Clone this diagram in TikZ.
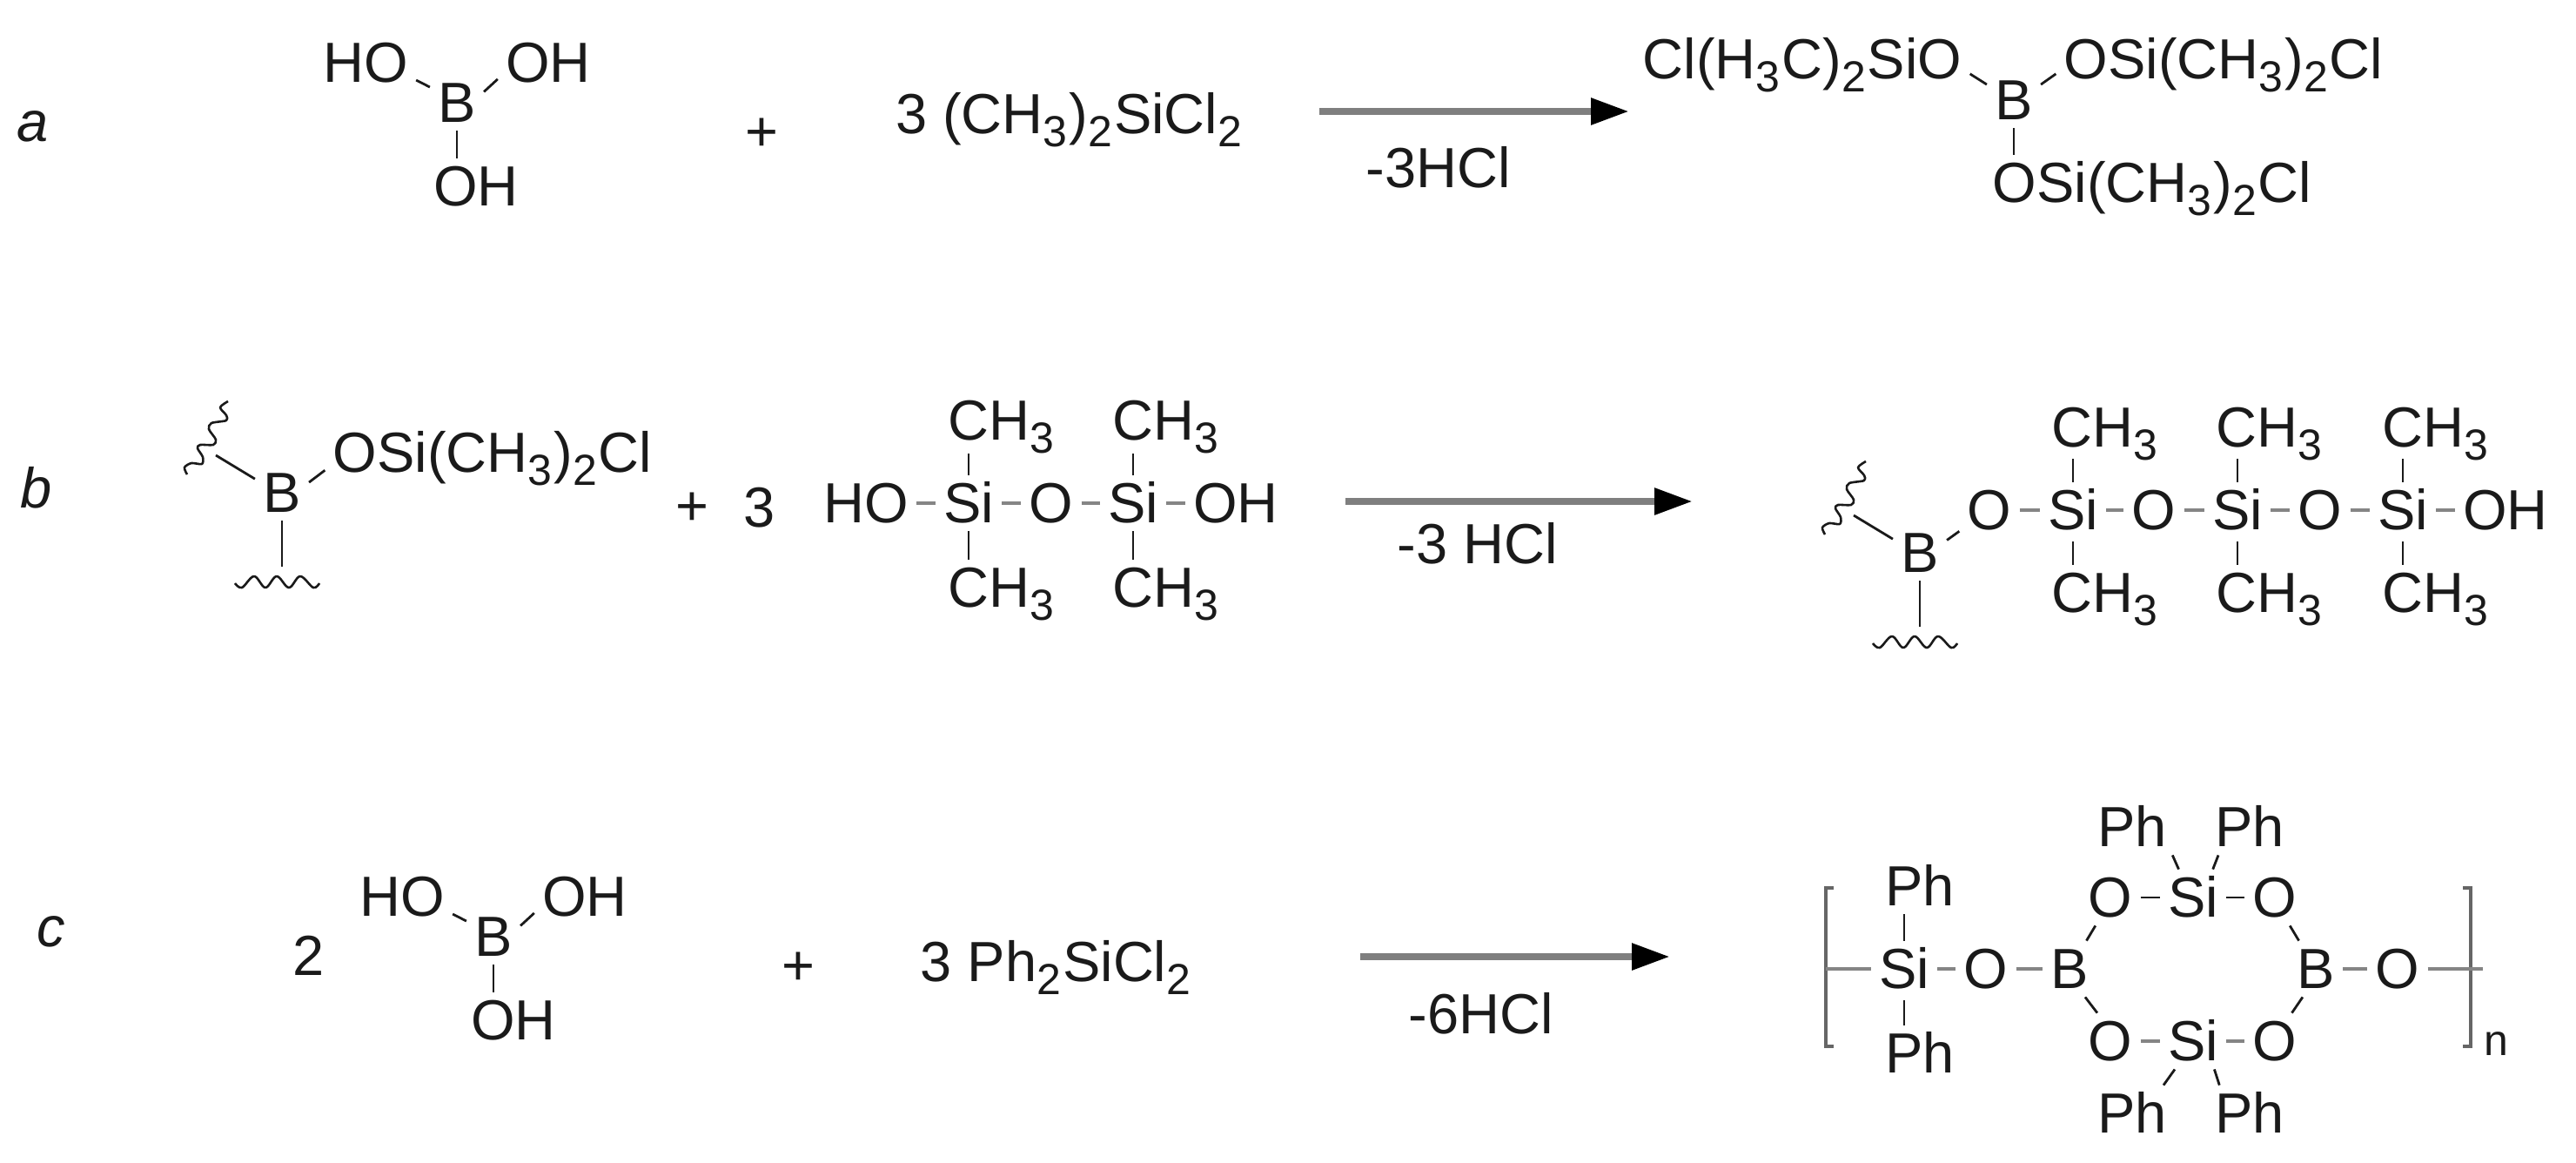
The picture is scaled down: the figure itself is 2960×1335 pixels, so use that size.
\documentclass[tikz,border=0pt]{standalone}
\usepackage{fontspec}
\setmainfont{Liberation Sans}
\usetikzlibrary{arrows.meta}
\newcommand{\lowd}[1]{\raisebox{-7.5pt}{\fontsize{25pt}{30pt}\selectfont #1}\kern1pt}
\definecolor{shaft}{HTML}{7F7F7F}
\definecolor{brk}{HTML}{666666}
\definecolor{ink}{HTML}{1A1A1A}
\definecolor{hgray}{HTML}{858585}
\tikzset{
  atom/.style={anchor=base,inner xsep=4.5pt,inner ysep=5pt,text height=22pt,text depth=0pt,
    font=\fontsize{32.5pt}{39pt}\selectfont,text=ink},
  lab/.style={anchor=base,inner sep=0pt,font=\fontsize{32.5pt}{39pt}\selectfont\itshape,text=ink},
  subn/.style={anchor=base,inner sep=0pt,font=\fontsize{25pt}{30pt}\selectfont,text=ink},
  bond/.style={line width=1.4pt,draw=ink},
  hbond/.style={line width=2.4pt,draw=hgray},
  rxnarrow/.style={line width=4.3pt,draw=shaft,-{Triangle[length=22pt,width=14.5pt,black]}},
  bracket/.style={line width=2pt,draw=brk},
  wavy/.style={line width=1.3pt,draw=ink,line join=round},
  wavyup/.pic={\draw[wavy] plot[smooth,tension=0.5] coordinates {(215,545) (212,537) (220,532) (232,533) (233,525) (227,515) (230,511) (245,511) (248,505) (240,493) (243,486) (260,483) (260,477) (253,468) (262,461)};},
  wavydown/.pic={\draw[wavy] plot[smooth,tension=0.6] coordinates {(270,670) (278,675) (292,662) (305,675) (318,662) (332,675) (345,662) (360,675) (367,670)};},
}
\begin{document}
\begin{tikzpicture}[x=0.5pt,y=-0.5pt]
\fill[white] (0,0) rectangle (2960,1335);
\useasboundingbox (0,0) rectangle (2960,1335);
% --- row a
\node[lab] (la) at (38,162) {a};
\node[atom] (aHO) at (420,94) {HO};
\node[atom] (aOH) at (630,94) {OH};
\node[atom] (aB) at (525,140) {B};
\node[atom] (aOHd) at (547,236) {OH};
\draw[bond] (aB.150) -- (aHO.-19);
\draw[bond] (aB.22) -- (aOH.198);
\draw[bond] (aB.south) -- (aB.south |- aOHd.north);
\node[atom] (aplus) at (875,173) {+};
\node[atom] (asil) at (1229,153) {3 (CH\lowd{3})\lowd{2}SiCl\lowd{2}};
\coordinate (aA1) at (1516,128);
\coordinate (aA2) at (1872,128);
\draw[rxnarrow] (aA1) -- (aA2);
\node[atom] (ahcl) at (1653,215) {-3HCl};
\node[atom] (apL) at (2071,90) {Cl(H\lowd{3}C)\lowd{2}SiO};
\node[atom] (apB) at (2314,137) {B};
\node[atom] (apR) at (2555,90) {OSi(CH\lowd{3})\lowd{2}Cl};
\node[atom] (apD) at (2473,232) {OSi(CH\lowd{3})\lowd{2}Cl};
\draw[bond] (apB.150) -- (apL.-5);
\draw[bond] (apB.30) -- (apR.185);
\draw[bond] (apB.south) -- (apB.south |- apD.north);
% --- row b
\node[lab] (lb) at (42,583) {b};
\node[atom] (bB) at (324,588) {B};
\node[atom] (bOSi) at (566,542) {OSi(CH\lowd{3})\lowd{2}Cl};
\draw[bond] (bB.21) -- (bOSi.186);
\coordinate (bW1) at (248,523);
\coordinate (bW2) at (324,651);
\pic {wavyup};
\pic {wavydown};
\draw[bond] (bW1) -- (bB.153);
\draw[bond] (bB.south) -- (bW2);
\node[atom] (bplus) at (795,603) {+};
\node[atom] (bthree) at (873,605) {3};
\node[atom] (bHO) at (995,600) {HO};
\node[atom] (bSi1) at (1113,600) {Si};
\node[atom] (bO) at (1208,600) {O};
\node[atom] (bSi2) at (1302,600) {Si};
\node[atom] (bOH) at (1420,600) {OH};
\node[atom] (bC1) at (1151,505) {CH\lowd{3}};
\node[atom] (bC2) at (1340,505) {CH\lowd{3}};
\node[atom] (bC3) at (1151,697) {CH\lowd{3}};
\node[atom] (bC4) at (1340,697) {CH\lowd{3}};
\draw[hbond] (bHO.east) -- (bSi1.west);
\draw[hbond] (bSi1.east) -- (bO.west);
\draw[hbond] (bO.east) -- (bSi2.west);
\draw[hbond] (bSi2.east) -- (bOH.west);
\draw[bond,shorten >=3pt] (bSi1.north) -- (bSi1.north |- bC1.south);
\draw[bond,shorten >=3pt] (bSi2.north) -- (bSi2.north |- bC2.south);
\draw[bond] (bSi1.south) -- (bSi1.south |- bC3.north);
\draw[bond] (bSi2.south) -- (bSi2.south |- bC4.north);
\coordinate (bA1) at (1546,576);
\coordinate (bA2) at (1945,576);
\draw[rxnarrow] (bA1) -- (bA2);
\node[atom] (bhcl) at (1698,647) {-3 HCl};
\node[atom] (pB) at (2206,657) {B};
\node[atom] (pO1) at (2286,608) {O};
\node[atom] (pSi1) at (2382,608) {Si};
\node[atom] (pO2) at (2475,608) {O};
\node[atom] (pSi2) at (2571,608) {Si};
\node[atom] (pO3) at (2666,608) {O};
\node[atom] (pSi3) at (2761,608) {Si};
\node[atom] (pOH) at (2879,608) {OH};
\node[atom] (pC1) at (2419,513) {CH\lowd{3}};
\node[atom] (pC2) at (2608,513) {CH\lowd{3}};
\node[atom] (pC3) at (2799,513) {CH\lowd{3}};
\node[atom] (pC4) at (2419,703) {CH\lowd{3}};
\node[atom] (pC5) at (2608,703) {CH\lowd{3}};
\node[atom] (pC6) at (2799,703) {CH\lowd{3}};
\draw[bond] (pB.25) -- (pO1.215);
\draw[hbond] (pO1.east) -- (pSi1.west);
\draw[hbond] (pSi1.east) -- (pO2.west);
\draw[hbond] (pO2.east) -- (pSi2.west);
\draw[hbond] (pSi2.east) -- (pO3.west);
\draw[hbond] (pO3.east) -- (pSi3.west);
\draw[hbond] (pSi3.east) -- (pOH.west);
\draw[bond,shorten >=2pt] (pSi1.north) -- (pSi1.north |- pC1.south);
\draw[bond,shorten >=2pt] (pSi2.north) -- (pSi2.north |- pC2.south);
\draw[bond,shorten >=2pt] (pSi3.north) -- (pSi3.north |- pC3.south);
\draw[bond,shorten <=2pt] (pSi1.south) -- (pSi1.south |- pC4.north);
\draw[bond,shorten <=2pt] (pSi2.south) -- (pSi2.south |- pC5.north);
\draw[bond,shorten <=2pt] (pSi3.south) -- (pSi3.south |- pC6.north);
\coordinate (pW1) at (2130,592);
\coordinate (pW2) at (2206,720);
\pic[shift={(1882,69)}] {wavyup};
\pic[shift={(1882,69)}] {wavydown};
\draw[bond] (pW1) -- (pB.153);
\draw[bond] (pB.south) -- (pW2);
% --- row c
\node[lab] (lc) at (59,1087) {c};
\node[atom] (ctwo) at (355,1120) {2};
\node[atom] (cHO) at (462,1052) {HO};
\node[atom] (cOH) at (672,1052) {OH};
\node[atom] (cB) at (567,1098) {B};
\node[atom] (cOHd) at (590,1194) {OH};
\draw[bond] (cB.150) -- (cHO.-19);
\draw[bond] (cB.22) -- (cOH.198);
\draw[bond] (cB.south) -- (cB.south |- cOHd.north);
\node[atom] (cplus) at (917,1131) {+};
\node[atom] (csil) at (1214,1127) {3 Ph\lowd{2}SiCl\lowd{2}};
\coordinate (cA1) at (1563,1099);
\coordinate (cA2) at (1919,1099);
\draw[rxnarrow] (cA1) -- (cA2);
\node[atom] (chcl) at (1702,1187) {-6HCl};
\coordinate (bk1) at (2107,1020);
\coordinate (bk2) at (2098,1020);
\coordinate (bk3) at (2098,1202);
\coordinate (bk4) at (2107,1202);
\draw[bracket] (bk1) -- (bk2) -- (bk3) -- (bk4);
\coordinate (bk5) at (2830,1020);
\coordinate (bk6) at (2839,1020);
\coordinate (bk7) at (2839,1202);
\coordinate (bk8) at (2830,1202);
\draw[bracket] (bk5) -- (bk6) -- (bk7) -- (bk8);
\node[subn] (cn) at (2868,1212) {n};
\node[atom] (qSi) at (2188,1135) {Si};
\node[atom] (qO) at (2282,1135) {O};
\node[atom] (qB1) at (2378,1135) {B};
\node[atom] (qB2) at (2661,1135) {B};
\node[atom] (qOr) at (2755,1135) {O};
\node[atom] (qPh1) at (2206,1040) {Ph};
\node[atom] (qPh2) at (2206,1232) {Ph};
\node[atom] (rO1) at (2425,1053) {O};
\node[atom] (rSi1) at (2520,1053) {Si};
\node[atom] (rO2) at (2614,1053) {O};
\node[atom] (rO3) at (2425,1218) {O};
\node[atom] (rSi2) at (2520,1218) {Si};
\node[atom] (rO4) at (2614,1218) {O};
\node[atom] (rPh1) at (2450,972) {Ph};
\node[atom] (rPh2) at (2585,972) {Ph};
\node[atom] (rPh3) at (2450,1301) {Ph};
\node[atom] (rPh4) at (2585,1301) {Ph};
\coordinate (qL) at (2098,1113);
\coordinate (qR) at (2853,1113);
\draw[hbond] (qL) -- (qSi.west);
\draw[hbond] (qSi.east) -- (qO.west);
\draw[hbond] (qO.east) -- (qB1.west);
\draw[hbond] (qB2.east) -- (qOr.west);
\draw[hbond] (qOr.east) -- (qR);
\draw[bond] (qSi.north) -- (qSi.north |- qPh1.south);
\draw[bond,shorten <=2pt] (qSi.south) -- (qSi.south |- qPh2.north);
\draw[bond] (rO1.east) -- (rSi1.west);
\draw[bond] (rSi1.east) -- (rO2.west);
\draw[hbond] (rO3.east) -- (rSi2.west);
\draw[hbond] (rSi2.east) -- (rO4.west);
\draw[bond] (qB1.59) -- (rO1.242);
\draw[bond] (qB2.121) -- (rO2.-62);
\draw[bond] (qB1.-61) -- (rO3.115);
\draw[bond] (qB2.245) -- (rO4.59);
\draw[bond] (rSi1.117) -- (rPh1.-35);
\draw[bond] (rSi1.55) -- (rPh2.222);
\draw[bond] (rSi2.237) -- (rPh3.42);
\draw[bond] (rSi2.-53) -- (rPh4.137);
\end{tikzpicture}
\end{document}
